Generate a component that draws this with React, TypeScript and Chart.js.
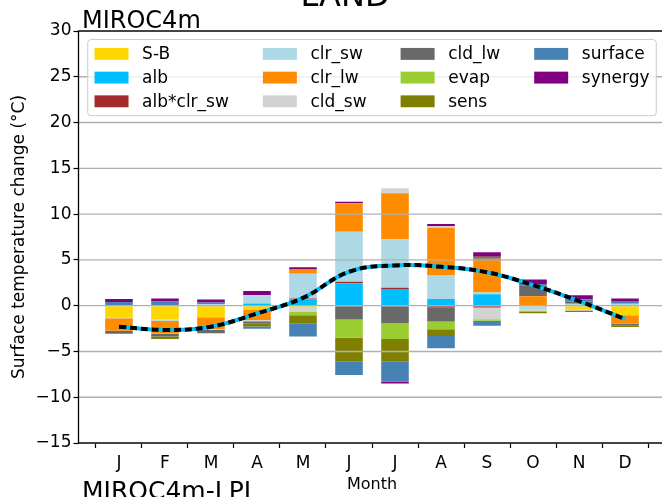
import React, { useEffect, useRef } from 'react';
import { Chart, registerables } from 'chart.js';

Chart.register(...registerables);

const FONT = '"DejaVu Sans", sans-serif';
const W = 680;
const H = 520;
const PLOT_LEFT = 78.5;
const PLOT_TOP = 31;
const PLOT_RIGHT = 665.5;
const PLOT_BOTTOM = 443;

// ---- data ----
const months = ['J', 'F', 'M', 'A', 'M', 'J', 'J', 'A', 'S', 'O', 'N', 'D'];
const yTicks = [-15, -10, -5, 0, 5, 10, 15, 20, 25, 30];

const sB = [-1.27, -1.5, -1.27, -0.47, -0.15, 0, 0, 0, 0, 0, -0.44, -1.06];
const alb = [0, 0, 0, 0.25, 0.69, 2.44, 1.82, 0.73, 1.24, 0, 0, 0];
const albClrSw = [0, 0, 0, 0, 0.1, 0.18, 0.15, -0.2, -0.2, 0, 0, 0];
const clrSw = [-0.1, -0.15, 0.15, 0.91, 2.7, 5.46, 5.28, 2.62, 0.2, -0.44, 0.2, 0.2];
const clrLw = [-1.38, -1.38, -1.27, -1.09, 0.45, 3.1, 5.03, 5.17, 3.55, 1.02, 0, -0.91];
const cldSw = [0, -0.05, -0.1, -0.15, -0.5, 0, 0.55, 0.18, -1.27, -0.1, -0.1, 0];
const cldLw = [-0.33, -0.3, -0.36, -0.2, 0, -1.5, -1.93, -1.53, 0.15, 1.2, 0.25, -0.18];
const evap = [0, 0, 0, 0, -0.4, -2.0, -1.71, -0.84, -0.18, -0.1, 0, 0];
const sens = [0, -0.25, 0, -0.36, -0.87, -2.62, -2.48, -0.73, 0.2, -0.2, -0.15, -0.18];
const surface = [0.4, 0.45, 0.2, -0.25, -1.46, -1.46, -2.19, -1.35, -0.55, 0.15, 0.25, 0.3];
const synergy = [0.33, 0.33, 0.33, 0.44, 0.25, 0.18, -0.18, 0.22, 0.5, 0.48, 0.44, 0.28];
const totalChange = [-2.3, -2.65, -2.3, -0.85, 0.85, 3.7, 4.4, 4.25, 3.65, 2.25, 0.5, -1.45];

const seriesNames = ['S-B', 'alb', 'alb*clr_sw', 'clr_sw', 'clr_lw', 'cld_sw', 'cld_lw', 'evap', 'sens', 'surface', 'synergy'];
const seriesColors = ['#FFD700', '#00BFFF', '#A52A2A', '#ADD8E6', '#FF8C00', '#D3D3D3', '#696969', '#9ACD32', '#808000', '#4682B4', '#800080'];
const seriesValues = [sB, alb, albClrSw, clrSw, clrLw, cldSw, cldLw, evap, sens, surface, synergy];

const CYAN_INDEX = seriesNames.length;

const minus = (v: number) => (v < 0 ? '\u2212' + Math.abs(v) : String(v));

const gridPlugin = {
  id: 'mplGrid',
  beforeDatasetDraw(chart: any, args: any) {
    if (args.index !== CYAN_INDEX) return;
    const { ctx, chartArea: a } = chart;
    const y = chart.scales.y;
    ctx.save();
    ctx.strokeStyle = '#b0b0b0';
    ctx.lineWidth = 1.4;
    for (const v of yTicks) {
      const py = y.getPixelForValue(v);
      ctx.beginPath();
      ctx.moveTo(a.left, py);
      ctx.lineTo(a.right, py);
      ctx.stroke();
    }
    ctx.restore();
  },
};

const framePlugin = {
  id: 'mplFrame',
  afterDatasetsDraw(chart: any) {
    const { ctx, chartArea: a } = chart;
    ctx.save();
    ctx.strokeStyle = '#000';
    ctx.lineWidth = 1.3;
    ctx.strokeRect(a.left, a.top, a.right - a.left, a.bottom - a.top);
    ctx.restore();
  },
};

const legendPlugin = {
  id: 'mplLegend',
  afterDraw(chart: any) {
    const { ctx, chartArea: a } = chart;
    const fs = 17;
    ctx.save();
    ctx.font = `${fs}px ${FONT}`;
    const handleLen = 2 * fs;
    const handleH = 0.7 * fs;
    const textPad = 0.8 * fs;
    const colSp = 2 * fs;
    const bPad = 0.4 * fs;
    const labelSp = 0.5 * fs;
    const rowH = 15.2;
    const nRows = 3;
    const nCols = Math.ceil(seriesNames.length / nRows);
    const colW: number[] = [];
    for (let c = 0; c < nCols; c++) {
      let mw = 0;
      for (let r = 0; r < nRows; r++) {
        const i = c * nRows + r;
        if (i < seriesNames.length) mw = Math.max(mw, ctx.measureText(seriesNames[i]).width);
      }
      colW.push(handleLen + textPad + mw);
    }
    const totalW = colW.reduce((s, v) => s + v, 0) + colSp * (nCols - 1) + 2 * bPad;
    const totalH = 2 * bPad + nRows * rowH + (nRows - 1) * labelSp;
    const left = (a.left + a.right) / 2 - totalW / 2;
    const top = a.top + 0.5 * fs;
    const rad = 0.2 * fs;
    ctx.beginPath();
    ctx.moveTo(left + rad, top);
    ctx.lineTo(left + totalW - rad, top);
    ctx.quadraticCurveTo(left + totalW, top, left + totalW, top + rad);
    ctx.lineTo(left + totalW, top + totalH - rad);
    ctx.quadraticCurveTo(left + totalW, top + totalH, left + totalW - rad, top + totalH);
    ctx.lineTo(left + rad, top + totalH);
    ctx.quadraticCurveTo(left, top + totalH, left, top + totalH - rad);
    ctx.lineTo(left, top + rad);
    ctx.quadraticCurveTo(left, top, left + rad, top);
    ctx.closePath();
    ctx.fillStyle = 'rgba(255,255,255,0.8)';
    ctx.fill();
    ctx.strokeStyle = '#cccccc';
    ctx.lineWidth = 1;
    ctx.stroke();
    let x = left + bPad;
    ctx.textBaseline = 'middle';
    ctx.textAlign = 'left';
    for (let c = 0; c < nCols; c++) {
      for (let r = 0; r < nRows; r++) {
        const i = c * nRows + r;
        if (i >= seriesNames.length) continue;
        const cy = top + bPad + r * (rowH + labelSp) + rowH / 2;
        ctx.fillStyle = seriesColors[i];
        ctx.fillRect(x, cy - handleH / 2, handleLen, handleH);
        ctx.fillStyle = '#000';
        ctx.fillText(seriesNames[i], x + handleLen + textPad, cy + 1);
      }
      x += colW[c] + colSp;
    }
    ctx.restore();
  },
};

const textPlugin = {
  id: 'mplTexts',
  afterDraw(chart: any) {
    const { ctx, chartArea: a } = chart;
    ctx.save();
    ctx.fillStyle = '#000';
    ctx.textBaseline = 'alphabetic';
    ctx.textAlign = 'center';
    ctx.font = `32px ${FONT}`;
    ctx.fillText('LAND', 345, 6);
    ctx.textAlign = 'left';
    ctx.font = `24px ${FONT}`;
    ctx.fillText('MIROC4m', 82, 28);
    ctx.font = `25px ${FONT}`;
    ctx.fillText('MIROC4m-LPI', 82, 499);
    ctx.textAlign = 'center';
    ctx.font = `16px ${FONT}`;
    ctx.fillText('Month', (a.left + a.right) / 2, 489);
    ctx.translate(24, (a.top + a.bottom) / 2);
    ctx.rotate(-Math.PI / 2);
    ctx.font = `17px ${FONT}`;
    ctx.fillText('Surface temperature change (\u00B0C)', 0, 0);
    ctx.restore();
  },
};

export default function App() {
  const ref = useRef<HTMLCanvasElement>(null);
  useEffect(() => {
    const canvas = ref.current;
    if (!canvas) return;
    const barSets = seriesNames.map((name, si) => ({
      type: 'bar' as const,
      label: name,
      data: months.map((_, i) => ({ x: i, y: seriesValues[si][i] })),
      backgroundColor: seriesColors[si],
      borderWidth: 0,
      stack: 'bars',
      barPercentage: 0.6,
      categoryPercentage: 1,
      order: 2,
    }));
    const lineData = months.map((_, i) => ({ x: i, y: totalChange[i] }));
    const chart = new Chart(canvas, {
      type: 'bar',
      data: {
        datasets: [
          ...barSets,
          {
            type: 'line' as const,
            label: 'total-cyan',
            data: lineData,
            borderColor: '#00BFFF',
            borderWidth: 4,
            pointRadius: 0,
            tension: 0.4,
            fill: false,
            stack: 'L1',
            order: 1,
          },
          {
            type: 'line' as const,
            label: 'total-black',
            data: lineData,
            borderColor: '#000000',
            borderWidth: 4,
            borderDash: [7, 4],
            borderCapStyle: 'butt',
            pointRadius: 0,
            tension: 0.4,
            fill: false,
            stack: 'L2',
            order: 0,
          },
        ] as any,
      },
      options: {
        responsive: false,
        animation: false,
        devicePixelRatio: 1,
        layout: { padding: { top: PLOT_TOP, right: W - PLOT_RIGHT, left: 0, bottom: 0 } },
        plugins: {
          legend: { display: false },
          tooltip: { enabled: false },
          title: { display: false },
        },
        scales: {
          x: {
            type: 'linear',
            min: -0.88,
            max: 11.88,
            offset: false,
            afterBuildTicks: (s: any) => {
              s.ticks = months.map((_, i) => ({ value: i }));
            },
            afterFit: (s: any) => {
              s.height = H - PLOT_BOTTOM;
            },
            ticks: {
              autoSkip: false,
              maxRotation: 0,
              minRotation: 0,
              padding: 5,
              color: '#000',
              font: { family: FONT, size: 17 },
              callback: (v: any) => months[Math.round(Number(v))] ?? '',
            },
            grid: { display: true, drawOnChartArea: false, drawTicks: true, tickLength: 5, tickColor: '#000', tickWidth: 1.2 },
            border: { display: false },
          },
          y: {
            type: 'linear',
            min: -15,
            max: 30,
            stacked: true,
            afterFit: (s: any) => {
              s.width = PLOT_LEFT;
            },
            afterBuildTicks: (s: any) => {
              s.ticks = yTicks.map((v) => ({ value: v }));
            },
            ticks: {
              padding: 2,
              color: '#000',
              font: { family: FONT, size: 17 },
              callback: (v: any) => minus(Number(v)),
            },
            grid: { display: true, drawOnChartArea: false, drawTicks: true, tickLength: 5, tickColor: '#000', tickWidth: 1.2 },
            border: { display: false },
          },
        },
      } as any,
      plugins: [gridPlugin, framePlugin, legendPlugin, textPlugin],
    });
    return () => chart.destroy();
  }, []);
  return (
    <div style={{ position: 'fixed', left: 0, top: 0, width: W, height: H, background: '#fff' }}>
      <canvas ref={ref} width={W} height={H} style={{ display: 'block', width: W, height: H }} />
    </div>
  );
}
